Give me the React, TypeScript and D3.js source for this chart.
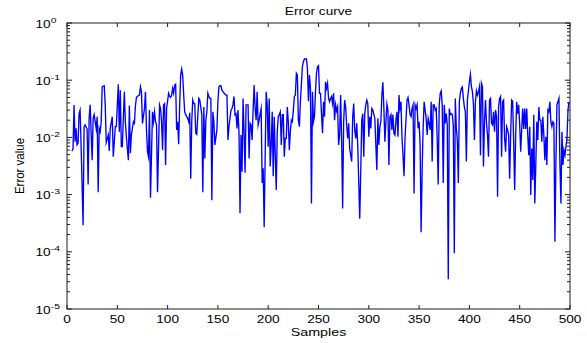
import React, { useEffect, useRef } from 'react';
import * as d3 from 'd3';

const chartTitle = 'Error curve';
const xAxisLabel = 'Samples';
const yAxisLabel = 'Error value';

const xTicks = [0, 50, 100, 150, 200, 250, 300, 350, 400, 450, 500];
const yDecades = [-5, -4, -3, -2, -1, 0];

// sample number / error (10 per line, both arrays line up)
const sampleIndex = [
  5, 6, 7, 8, 9, 10, 11, 12, 13, 14,
  16, 17, 18, 20, 21, 22, 23, 25, 26, 27,
  29, 30, 31, 32, 33, 34, 35, 37, 38, 39,
  41, 42, 43, 45, 46, 48, 49, 51, 52, 53,
  54, 55, 57, 58, 59, 61, 62, 63, 64, 66,
  67, 68, 69, 71, 72, 73, 74, 75, 77, 78,
  79, 80, 81, 82, 83, 85, 86, 87, 88, 89,
  90, 92, 93, 94, 95, 96, 97, 98, 99, 101,
  102, 103, 104, 105, 106, 107, 108, 109, 110, 111,
  112, 113, 114, 115, 116, 117, 118, 120, 121, 122,
  123, 124, 125, 126, 127, 128, 129, 130, 131, 132,
  134, 135, 136, 137, 138, 139, 140, 141, 142, 143,
  144, 145, 146, 147, 149, 150, 151, 152, 153, 154,
  155, 157, 158, 159, 160, 161, 163, 164, 165, 166,
  167, 168, 169, 170, 171, 172, 173, 174, 175, 176,
  177, 178, 180, 181, 182, 183, 184, 185, 186, 187,
  188, 189, 190, 191, 192, 193, 194, 195, 196, 197,
  198, 199, 200, 201, 202, 203, 204, 205, 206, 207,
  208, 209, 210, 211, 212, 213, 214, 215, 216, 217,
  218, 219, 220, 221, 222, 223, 224, 225, 226, 227,
  228, 229, 230, 231, 232, 234, 235, 236, 238, 239,
  240, 241, 242, 243, 244, 245, 246, 247, 248, 249,
  250, 251, 252, 253, 254, 255, 256, 257, 258, 259,
  260, 261, 262, 263, 264, 265, 266, 267, 268, 269,
  270, 271, 272, 273, 274, 275, 276, 277, 278, 279,
  280, 281, 282, 283, 284, 285, 286, 287, 288, 289,
  290, 291, 292, 293, 294, 295, 296, 297, 298, 299,
  300, 301, 302, 303, 304, 306, 307, 308, 309, 310,
  311, 312, 313, 314, 315, 316, 317, 318, 319, 320,
  321, 322, 323, 324, 325, 326, 327, 328, 329, 330,
  331, 332, 333, 334, 335, 336, 338, 339, 340, 341,
  342, 343, 344, 345, 346, 347, 348, 349, 350, 351,
  352, 353, 354, 355, 356, 357, 358, 359, 360, 361,
  362, 363, 364, 365, 366, 367, 368, 369, 370, 371,
  372, 373, 374, 375, 376, 377, 378, 379, 380, 381,
  382, 383, 384, 385, 386, 387, 388, 389, 390, 391,
  392, 393, 394, 395, 396, 397, 398, 400, 401, 402,
  403, 404, 405, 406, 407, 408, 409, 410, 411, 412,
  413, 414, 415, 416, 417, 418, 419, 420, 421, 422,
  423, 424, 425, 426, 427, 428, 429, 430, 431, 432,
  433, 434, 435, 436, 437, 438, 439, 440, 441, 442,
  443, 444, 445, 446, 447, 448, 449, 450, 451, 452,
  453, 454, 455, 456, 457, 458, 459, 460, 461, 462,
  463, 464, 465, 466, 467, 468, 469, 470, 471, 472,
  473, 474, 475, 476, 477, 478, 479, 480, 481, 482,
  483, 484, 485, 486, 487, 488, 489, 490, 491, 492,
  493, 494, 495, 496, 497, 498, 499,
];

const errorValue = [
  0.0058, 0.0064, 0.037, 0.0084, 0.0144, 0.0074, 0.0079, 0.026, 0.030, 0.0074,
  0.00029, 0.0154, 0.0165, 0.014, 0.0015, 0.0215, 0.037, 0.004, 0.0215, 0.025,
  0.0144, 0.023, 0.0011, 0.0144, 0.0126, 0.0188, 0.077, 0.080, 0.037, 0.0082,
  0.011, 0.0058, 0.0144, 0.023, 0.0046, 0.0154, 0.0154, 0.085, 0.0126, 0.067,
  0.0069, 0.0069, 0.063, 0.0188, 0.0103, 0.004, 0.036, 0.0053, 0.011, 0.0188,
  0.0176, 0.035, 0.050, 0.054, 0.055, 0.077, 0.063, 0.0176, 0.032, 0.063,
  0.014, 0.0056, 0.0046, 0.030, 0.00088, 0.028, 0.0188, 0.028, 0.0188, 0.0165,
  0.0011, 0.037, 0.032, 0.0188, 0.006, 0.037, 0.039, 0.0033, 0.032, 0.059,
  0.052, 0.050, 0.055, 0.072, 0.059, 0.082, 0.085, 0.0135, 0.0188, 0.0076,
  0.037, 0.123, 0.157, 0.123, 0.055, 0.028, 0.025, 0.0215, 0.0188, 0.027,
  0.0019, 0.0188, 0.045, 0.039, 0.039, 0.0118, 0.0113, 0.023, 0.048, 0.045,
  0.025, 0.0011, 0.034, 0.0043, 0.020, 0.028, 0.059, 0.052, 0.048, 0.048,
  0.0008, 0.028, 0.0188, 0.0074, 0.0135, 0.042, 0.077, 0.080, 0.080, 0.067,
  0.063, 0.057, 0.055, 0.055, 0.009, 0.0154, 0.030, 0.032, 0.037, 0.052,
  0.025, 0.026, 0.0144, 0.030, 0.0118, 0.00047, 0.011, 0.0025, 0.048, 0.0126,
  0.0024, 0.037, 0.037, 0.0043, 0.0176, 0.0165, 0.009, 0.030, 0.082, 0.032,
  0.020, 0.063, 0.0165, 0.020, 0.026, 0.032, 0.0016, 0.0029, 0.00027, 0.0049,
  0.063, 0.037, 0.0069, 0.048, 0.0031, 0.0074, 0.028, 0.0021, 0.023, 0.0049,
  0.0012, 0.0126, 0.023, 0.025, 0.028, 0.0074, 0.025, 0.025, 0.0046, 0.0096,
  0.0096, 0.034, 0.0188, 0.006, 0.0126, 0.020, 0.0188, 0.030, 0.052, 0.055,
  0.132, 0.123, 0.020, 0.0154, 0.042, 0.172, 0.211, 0.235, 0.235, 0.161,
  0.043, 0.123, 0.072, 0.0007, 0.063, 0.0188, 0.023, 0.063, 0.132, 0.172,
  0.180, 0.059, 0.059, 0.025, 0.0118, 0.042, 0.023, 0.094, 0.072, 0.088,
  0.048, 0.042, 0.048, 0.052, 0.039, 0.059, 0.020, 0.037, 0.029, 0.034,
  0.0074, 0.011, 0.055, 0.009, 0.00057, 0.0188, 0.045, 0.034, 0.0165, 0.0096,
  0.0176, 0.0064, 0.0049, 0.0038, 0.023, 0.039, 0.0135, 0.0096, 0.0176, 0.0074,
  0.0017, 0.00038, 0.0025, 0.020, 0.026, 0.0046, 0.026, 0.037, 0.045, 0.039,
  0.0103, 0.023, 0.0144, 0.032, 0.030, 0.0215, 0.0074, 0.0027, 0.0215, 0.0074,
  0.0154, 0.0188, 0.055, 0.092, 0.032, 0.0084, 0.0188, 0.038, 0.030, 0.0033,
  0.023, 0.025, 0.0135, 0.025, 0.0118, 0.011, 0.020, 0.028, 0.0103, 0.055,
  0.032, 0.042, 0.0096, 0.0049, 0.0021, 0.0096, 0.045, 0.050, 0.037, 0.025,
  0.023, 0.032, 0.037, 0.00105, 0.037, 0.032, 0.037, 0.0144, 0.0188, 0.0074,
  0.00022, 0.0025, 0.0144, 0.042, 0.030, 0.0215, 0.011, 0.0215, 0.0176, 0.0135,
  0.042, 0.0038, 0.037, 0.037, 0.030, 0.032, 0.0096, 0.0015, 0.037, 0.059,
  0.065, 0.037, 0.0016, 0.037, 0.0176, 0.026, 0.0165, 0.000033, 0.032, 0.025,
  0.026, 0.025, 0.0165, 0.000094, 0.048, 0.0144, 0.009, 0.0016, 0.042, 0.059,
  0.072, 0.076, 0.048, 0.034, 0.028, 0.0038, 0.045, 0.094, 0.127, 0.077,
  0.063, 0.039, 0.009, 0.042, 0.065, 0.055, 0.063, 0.077, 0.0049, 0.088,
  0.077, 0.0031, 0.0188, 0.045, 0.0176, 0.011, 0.0046, 0.045, 0.048, 0.0176,
  0.0165, 0.028, 0.0126, 0.030, 0.023, 0.00092, 0.034, 0.048, 0.052, 0.0046,
  0.042, 0.045, 0.0096, 0.0056, 0.0154, 0.0135, 0.011, 0.0019, 0.011, 0.045,
  0.043, 0.0084, 0.0012, 0.011, 0.042, 0.026, 0.037, 0.0165, 0.0056, 0.014,
  0.032, 0.014, 0.032, 0.014, 0.032, 0.011, 0.0049, 0.0154, 0.00098, 0.0064,
  0.0018, 0.025, 0.0007, 0.0033, 0.0188, 0.009, 0.034, 0.020, 0.020, 0.0084,
  0.023, 0.011, 0.004, 0.0103, 0.0033, 0.030, 0.028, 0.042, 0.0188, 0.0154,
  0.0188, 0.0176, 0.00015, 0.0038, 0.037, 0.042, 0.048, 0.0033, 0.0007, 0.0126,
  0.0033, 0.006, 0.0049, 0.0069, 0.0096, 0.030, 0.042,
];

const W = 587;
const H = 343;
// plot box in page pixels
const box = { left: 67, right: 570, top: 23, bottom: 309 };

const FONT = '"Liberation Sans", Arial, Helvetica, sans-serif';
const STRETCH = 1.3; // the picture's lettering is wide
const AXIS_COLOR = '#1e1e1e';

export default function App() {
  const svgRef = useRef<SVGSVGElement>(null);

  useEffect(() => {
    const svg = d3.select(svgRef.current);
    svg.selectAll('*').remove();

    const x = d3.scaleLinear().domain([0, 500]).range([box.left, box.right]);
    const y = d3.scaleLog().domain([1e-5, 1]).range([box.bottom, box.top]);

    svg.append('rect').attr('width', W).attr('height', H).attr('fill', '#fff');

    // the curve
    const pts = sampleIndex.map((s, i) => [s, errorValue[i]] as [number, number]);
    const line = d3.line<[number, number]>()
      .x(d => x(d[0]))
      .y(d => y(d[1]));
    svg.append('path')
      .datum(pts)
      .attr('d', line)
      .attr('fill', 'none')
      .attr('stroke', '#0000ff')
      .attr('stroke-width', 1.35)
      .attr('stroke-linejoin', 'miter')
      .attr('stroke-miterlimit', 10);

    // box
    svg.append('rect')
      .attr('x', box.left).attr('y', box.top)
      .attr('width', box.right - box.left).attr('height', box.bottom - box.top)
      .attr('fill', 'none').attr('stroke', AXIS_COLOR).attr('stroke-width', 1);

    const ticks = svg.append('g').attr('stroke', AXIS_COLOR).attr('stroke-width', 1);

    // x ticks, inside, bottom and top
    xTicks.forEach(t => {
      const px = x(t);
      ticks.append('line').attr('x1', px).attr('x2', px).attr('y1', box.bottom).attr('y2', box.bottom - 4);
      ticks.append('line').attr('x1', px).attr('x2', px).attr('y1', box.top).attr('y2', box.top + 4);
    });

    // y ticks, major decades + minor 2..9
    yDecades.forEach(k => {
      const py = y(Math.pow(10, k));
      ticks.append('line').attr('x1', box.left).attr('x2', box.left + 5).attr('y1', py).attr('y2', py);
      ticks.append('line').attr('x1', box.right).attr('x2', box.right - 5).attr('y1', py).attr('y2', py);
      if (k < 0) {
        d3.range(2, 10).forEach(m => {
          const my = y(m * Math.pow(10, k));
          ticks.append('line').attr('x1', box.left).attr('x2', box.left + 3).attr('y1', my).attr('y2', my);
          ticks.append('line').attr('x1', box.right).attr('x2', box.right - 3).attr('y1', my).attr('y2', my);
        });
      }
    });

    const text = (tx: number, ty: number, str: string, anchor = 'middle', size = 10.5) =>
      svg.append('text')
        .attr('transform', `translate(${tx},${ty}) scale(${STRETCH},1)`)
        .attr('text-anchor', anchor)
        .attr('font-family', FONT)
        .attr('font-size', size)
        .attr('fill', '#000')
        .text(str);

    // x tick labels
    xTicks.forEach(t => text(x(t), 323, String(t)));

    // y tick labels: 10 with superscript exponent
    yDecades.forEach(k => {
      const py = y(Math.pow(10, k));
      const t = svg.append('text')
        .attr('transform', `translate(35.5,${py + 4.5}) scale(${STRETCH},1)`)
        .attr('font-family', FONT)
        .attr('font-size', 10.5)
        .attr('fill', '#000');
      t.append('tspan').text('10');
      t.append('tspan').attr('dy', -5).attr('font-size', 8).text(String(k));
    });

    // title and axis labels
    text((box.left + box.right) / 2, 15, chartTitle);
    text((box.left + box.right) / 2, 336, xAxisLabel, 'middle', 11);
    svg.append('text')
      .attr('transform', `translate(24,${(box.top + box.bottom) / 2}) rotate(-90) scale(1,1.15)`)
      .attr('text-anchor', 'middle')
      .attr('font-family', FONT)
      .attr('font-size', 11.5)
      .attr('fill', '#000')
      .text(yAxisLabel);
  }, []);

  return (
    <svg
      ref={svgRef}
      width={W}
      height={H}
      style={{ position: 'absolute', left: 0, top: 0, display: 'block' }}
    />
  );
}
